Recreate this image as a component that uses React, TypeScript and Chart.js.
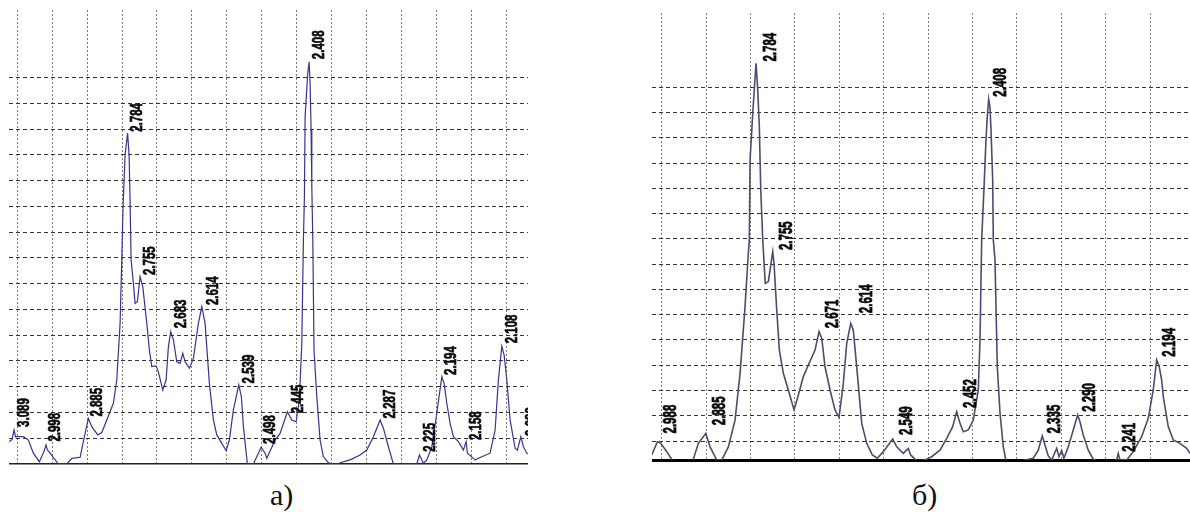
import React, { useEffect, useRef } from "react";
import { Chart, registerables } from "chart.js";

Chart.register(...registerables);

const WAVELENGTH = 1.5406;

// ---------- Panel а) ----------
const A_TWO_THETA = [
  28.762, 28.848, 28.905, 28.948, 28.983, 29.172, 29.315, 29.458, 29.63, 29.765, 29.822, 29.86, 29.937,
  30.175, 30.415, 30.559, 30.797, 30.94, 31.034, 31.132, 31.304, 31.418, 31.562, 31.751, 31.848, 31.943,
  31.991, 32.029, 32.086, 32.158, 32.201, 32.229, 32.258, 32.324, 32.372, 32.438, 32.516, 32.593, 32.708,
  32.782, 32.851, 32.974, 33.04, 33.166, 33.261, 33.327, 33.395, 33.47, 33.567, 33.662, 33.739, 33.805,
  33.928, 34.043, 34.186, 34.284, 34.378, 34.501, 34.616, 34.713, 34.828, 34.98, 35.074, 35.189, 35.344,
  35.418, 35.476, 35.59, 35.762, 35.905, 35.983, 36.097, 36.146, 36.384, 36.527, 36.736, 36.862, 36.986,
  37.08, 37.149, 37.195, 37.224, 37.244, 37.315, 37.358, 37.387, 37.415, 37.436, 37.464, 37.5, 37.579,
  37.673, 37.768, 37.911, 38.046, 38.198, 38.246, 38.533, 38.819, 39.011, 39.201, 39.393, 39.487, 39.63,
  39.774, 40.444, 40.519, 40.633, 40.731, 40.874, 41.017, 41.16, 41.226, 41.304, 41.398, 41.493, 41.636,
  41.779, 41.857, 41.894, 42.115, 42.307, 42.544, 42.688, 42.782, 42.88, 42.946, 43.023, 43.117, 43.261,
  43.327, 43.424, 43.499, 43.596, 43.69,
];
const A_INTENSITY = [
  0.87, 0.95, 1.32, 1.05, 1.06, 1.06, 0.93, 0.42, 0.09, 0.5, 0.74, 0.55, 0.42,
  0.0, 0.0, 0.22, 0.26, 1.19, 1.77, 1.45, 1.13, 1.22, 1.71, 2.36, 3.26, 5.46,
  7.92, 10.06, 12.0, 12.85, 12.0, 10.25, 7.92, 7.02, 6.24, 6.3, 7.27, 6.89, 5.46,
  4.43, 3.78, 3.81, 3.58, 2.87, 3.26, 4.56, 5.14, 4.82, 3.97, 3.91, 4.3, 3.97,
  3.72, 4.1, 5.46, 6.11, 5.46, 3.13, 1.71, 1.13, 0.87, 0.52, 0.93, 2.1, 3.07,
  2.61, 1.45, 0.0, 0.0, 0.42, 0.65, 0.42, 0.22, 0.93, 1.19, 2.03, 1.71, 1.64,
  2.49, 4.69, 8.7, 10.38, 13.49, 15.1, 15.62, 14.78, 12.97, 10.77, 8.7, 4.4, 2.61,
  0.93, 0.28, 0.05, 0.0, 0.0, 0.05, 0.16, 0.35, 0.54, 1.06, 1.71, 1.39, 0.67,
  0.0, 0.0, 0.35, 0.03, 0.16, 0.67, 1.97, 3.39, 3.13, 2.36, 1.58, 1.06, 0.87,
  0.54, 0.87, 0.42, 0.16, 0.28, 0.42, 1.32, 3.26, 4.58, 4.23, 3.26, 1.71, 0.61,
  0.54, 1.06, 0.67, 0.42, 0.35,
];
const A_PEAK_D = [
  "3.089", "2.998", "2.885", "2.784", "2.755", "2.683", "2.614", "2.539", "2.498",
  "2.445", "2.408", "2.287", "2.225", "2.194", "2.158", "2.108", "2.082",
];
const A_PEAK_H = [1.44, 0.87, 1.84, 12.9, 7.34, 5.27, 6.17, 3.13, 0.78, 1.97, 15.72, 1.77, 0.48, 3.46, 0.93, 4.69, 1.09];
const A_GRID_X = [29, 30, 31, 32, 33, 34, 35, 36, 37, 38, 39, 40, 41, 42, 43];

// ---------- Panel б) ----------
const B_TWO_THETA = [
  29.775, 29.901, 29.977, 30.113, 30.261, 30.4, 30.55, 30.676, 30.824, 30.991, 31.088, 31.239, 31.351,
  31.5, 31.651, 31.764, 31.876, 31.95, 31.973, 31.989, 32.05, 32.086, 32.124, 32.162, 32.198, 32.23,
  32.275, 32.331, 32.401, 32.5, 32.529, 32.59, 32.649, 32.739, 32.851, 32.98, 33.077, 33.189, 33.302,
  33.453, 33.543, 33.604, 33.678, 33.791, 33.903, 33.993, 34.09, 34.167, 34.257, 34.315, 34.405, 34.505,
  34.617, 34.743, 34.856, 34.991, 35.203, 35.293, 35.441, 35.554, 35.608, 35.743, 35.93, 36.081, 36.268,
  36.419, 36.554, 36.644, 36.719, 36.793, 36.906, 37.018, 37.131, 37.169, 37.207, 37.259, 37.304, 37.333,
  37.365, 37.394, 37.417, 37.455, 37.469, 37.507, 37.559, 37.62, 37.694, 37.77, 37.957, 37.995, 38.182,
  38.369, 38.482, 38.572, 38.633, 38.707, 38.784, 38.896, 38.948, 39.009, 39.06, 39.158, 39.27, 39.369,
  39.421, 39.495, 39.608, 39.721, 39.872, 39.984, 40.097, 40.248, 40.284, 40.322, 40.473, 40.622, 40.811,
  40.959, 41.072, 41.149, 41.207, 41.261, 41.299, 41.41, 41.523, 41.673, 41.824, 41.9,
];
const B_INTENSITY = [
  0.45, 0.97, 0.91, 0.58, 0.18, 0.0, 0.0, 0.09, 0.91, 1.3, 0.77, 0.25, 0.25,
  0.77, 1.83, 3.68, 6.32, 8.43, 8.96, 12.12, 13.97, 14.96, 15.95, 14.9, 13.44, 10.94,
  8.96, 7.24, 7.31, 8.49, 8.03, 6.19, 4.6, 3.68, 3.02, 2.23, 2.82, 3.55, 4.01,
  4.6, 5.33, 5.07, 3.94, 3.02, 2.23, 1.94, 3.28, 4.87, 5.66, 5.39, 3.68, 1.7,
  0.91, 0.45, 0.32, 0.58, 1.08, 0.77, 0.51, 0.71, 0.45, 0.22, 0.25, 0.38, 0.64,
  1.11, 1.57, 2.16, 1.7, 1.37, 1.44, 1.83, 3.02, 5.0, 8.96, 11.0, 12.92, 13.84,
  14.53, 14.23, 13.31, 11.33, 8.96, 8.17, 3.94, 2.1, 0.77, 0.09, 0.09, 0.18, 0.25,
  0.32, 0.64, 1.2, 0.84, 0.41, 0.25, 0.71, 0.38, 0.62, 0.32, 0.77, 1.44, 2.03,
  1.76, 1.24, 0.64, 0.28, 0.14, 0.09, 0.18, 0.25, 0.51, 0.25, 0.25, 0.58, 1.17,
  1.9, 3.02, 4.21, 3.94, 3.42, 2.75, 1.57, 1.04, 0.91, 0.71, 0.51,
];
const B_PEAK_D = [
  "2.988", "2.885", "2.784", "2.755", "2.671", "2.614", "2.549", "2.452", "2.408",
  "2.335", "2.290", "2.241", "2.194",
];
const B_PEAK_H = [1.3, 1.63, 16.02, 8.56, 5.46, 6.06, 1.24, 2.31, 14.63, 1.3, 2.16, 0.58, 4.34];
const B_GRID_X = [30, 31, 32, 33, 34, 35, 36, 37, 38, 39, 40, 41];

const GRID_Y = [1, 2, 3, 4, 5, 6, 7, 8, 9, 10, 11, 12, 13, 14, 15];

function braggTwoTheta(d: number): number {
  return (2 * Math.asin(WAVELENGTH / (2 * d)) * 180) / Math.PI;
}

type PanelCfg = {
  twoTheta: number[];
  intensity: number[];
  peakD: string[];
  peakH: number[];
  gridX: number[];
  xMin: number;
  xMax: number;
  yMin: number;
  yMax: number;
  width: number;
  height: number;
  padBottom: number;
  lineColor: string;
  lineWidth: number;
  axisColor: string;
  axisWidth: number;
  vGridColor: string;
  hGridColor: string;
  labelDx: number;
  labelHScale: number;
};

function makeLabelPlugin(cfg: PanelCfg) {
  return {
    id: "peakLabels",
    afterDatasetsDraw(chart: any) {
      const { ctx, chartArea, scales } = chart;
      ctx.save();
      ctx.beginPath();
      ctx.rect(chartArea.left, chartArea.top, chartArea.right - chartArea.left, chartArea.bottom - chartArea.top);
      ctx.clip();
      ctx.fillStyle = "#0a0a0a";
      ctx.strokeStyle = "#0a0a0a";
      ctx.lineWidth = 0.6;
      ctx.font = 'bold 14px "Liberation Sans", Arial, sans-serif';
      ctx.textAlign = "left";
      ctx.textBaseline = "alphabetic";
      cfg.peakD.forEach((t, i) => {
        const x = scales.x.getPixelForValue(braggTwoTheta(parseFloat(t))) + cfg.labelDx;
        const y = scales.y.getPixelForValue(cfg.peakH[i]);
        ctx.save();
        ctx.translate(x, y);
        ctx.rotate(-Math.PI / 2);
        ctx.scale(0.82, cfg.labelHScale);
        ctx.fillText(t, 0, 0);
        ctx.strokeText(t, 0, 0);
        ctx.restore();
      });
      ctx.restore();
    },
  };
}

function Panel({ cfg }: { cfg: PanelCfg }) {
  const ref = useRef<HTMLCanvasElement | null>(null);
  useEffect(() => {
    if (!ref.current) return;
    const chart = new Chart(ref.current, {
      type: "line",
      data: {
        datasets: [
          {
            data: cfg.twoTheta.map((x, i) => ({ x, y: cfg.intensity[i] })),
            borderColor: cfg.lineColor,
            borderWidth: cfg.lineWidth,
            pointRadius: 0,
            tension: 0,
            fill: false,
          },
        ],
      },
      options: {
        animation: false,
        responsive: false,
        maintainAspectRatio: false,
        layout: { padding: { left: 0, right: 0, top: 0, bottom: cfg.padBottom } },
        plugins: { legend: { display: false }, tooltip: { enabled: false } },
        scales: {
          x: {
            type: "linear",
            min: cfg.xMin,
            max: cfg.xMax,
            afterBuildTicks: (s: any) => {
              s.ticks = cfg.gridX.map((value) => ({ value }));
            },
            ticks: { display: false },
            grid: { color: cfg.vGridColor, lineWidth: 1, drawTicks: false },
            border: { display: true, color: cfg.axisColor, width: cfg.axisWidth, dash: [2, 2] },
          },
          y: {
            type: "linear",
            min: cfg.yMin,
            max: cfg.yMax,
            afterBuildTicks: (s: any) => {
              s.ticks = GRID_Y.map((value) => ({ value }));
            },
            ticks: { display: false },
            grid: { color: cfg.hGridColor, lineWidth: 1, drawTicks: false },
            border: { display: false, dash: [4, 3] },
          },
        },
      },
      plugins: [makeLabelPlugin(cfg)],
    } as any);
    return () => chart.destroy();
  }, [cfg]);
  return <canvas ref={ref} width={cfg.width} height={cfg.height} style={{ display: "block" }} />;
}

const PANEL_A: PanelCfg = {
  twoTheta: A_TWO_THETA,
  intensity: A_INTENSITY,
  peakD: A_PEAK_D,
  peakH: A_PEAK_H,
  gridX: A_GRID_X,
  xMin: 28.76,
  xMax: 43.63,
  yMin: 0,
  yMax: 17.63,
  width: 519,
  height: 456,
  padBottom: 2,
  lineColor: "#35358e",
  lineWidth: 1.2,
  axisColor: "#222222",
  axisWidth: 1.5,
  vGridColor: "#7a7a7a",
  hGridColor: "#333333",
  labelDx: 16,
  labelHScale: 1.12,
};

const PANEL_B: PanelCfg = {
  twoTheta: B_TWO_THETA,
  intensity: B_INTENSITY,
  peakD: B_PEAK_D,
  peakH: B_PEAK_H,
  gridX: B_GRID_X,
  xMin: 29.78,
  xMax: 41.9,
  yMin: 0.25,
  yMax: 17.94,
  width: 538,
  height: 450,
  padBottom: 3,
  lineColor: "#4c4c70",
  lineWidth: 1.6,
  axisColor: "#000000",
  axisWidth: 3,
  vGridColor: "#808080",
  hGridColor: "#333333",
  labelDx: 20,
  labelHScale: 1.3,
};

export default function App() {
  const caption: React.CSSProperties = {
    position: "absolute",
    fontFamily: '"Liberation Serif", "Times New Roman", serif',
    fontSize: "30px",
    lineHeight: "30px",
    color: "#111",
    whiteSpace: "nowrap",
  };
  return (
    <div style={{ position: "absolute", left: 0, top: 0, width: 1190, height: 512, background: "#fff", overflow: "hidden" }}>
      <div style={{ position: "absolute", left: 9, top: 10 }}>
        <Panel cfg={PANEL_A} />
      </div>
      <div style={{ position: "absolute", left: 652, top: 13 }}>
        <Panel cfg={PANEL_B} />
      </div>
      <div style={{ ...caption, left: 270, top: 480 }}>а)</div>
      <div style={{ ...caption, left: 912, top: 480 }}>б)</div>
    </div>
  );
}
